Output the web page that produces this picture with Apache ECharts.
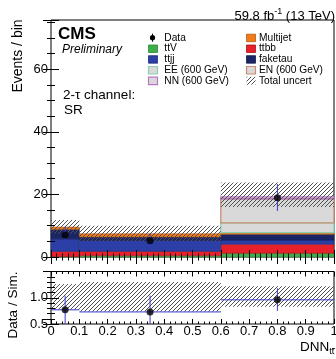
<!DOCTYPE html>
<html>
<head>
<meta charset="utf-8">
<script src="https://cdn.jsdelivr.net/npm/echarts@6/dist/echarts.min.js"></script>
<style>html,body{margin:0;padding:0;background:#fff}#c{width:336px;height:359px}</style>
</head>
<body>
<div id="c"></div>
<script>
// ---------------- data ----------------
const binEdges = [0, 0.1, 0.6, 1.0];
const ttV      = [0.1, 0.4, 1.2];
const ttbb     = [1.7, 1.4, 2.9];
const ttjj     = [4.0, 3.5, 1.3];
const faketau  = [3.0, 1.1, 1.9];
const multijet = [0.75, 1.0, 0.5];
const sigEE    = [0, 0, 3.1];
const sigEN    = [0, 0, 7.7];
const sigNN    = [0, 0, 0.6];
const uncLow   = [7.4, 5.0, 16.0];
const uncHigh  = [11.8, 10.0, 23.8];
const dataX    = [0.05, 0.35, 0.8];
const dataY    = [7.0, 5.2, 18.9];
const dataLo   = [4.4, 2.9, 14.7];
const dataHi   = [9.6, 7.5, 23.3];
const ratioY   = [0.77, 0.73, 0.96];
const ratioLo  = [0.45, 0.42, 0.75];
const ratioHi  = [1.04, 1.04, 1.18];
const ratioUncLow  = [0.77, 0.74, 0.83];
const ratioUncHigh = [1.26, 1.30, 1.22];
const mainTicks  = [0, 20, 40, 60];
const ratioTicks = [0.5, 1.0, 1.5];
const xTicks     = [0, 0.1, 0.2, 0.3, 0.4, 0.5, 0.6, 0.7, 0.8, 0.9, 1];

// ---------------- styles ----------------
const FONT = '"Liberation Sans", Arial, Helvetica, sans-serif';
const stackDefs = [
  {name: 'ttV',      values: ttV,      fill: '#3fae49', stroke: '#2f8a38'},
  {name: 'ttbb',     values: ttbb,     fill: '#e8202a', stroke: '#a8141b'},
  {name: 'ttjj',     values: ttjj,     fill: '#2b3fa6', stroke: '#1f2f80'},
  {name: 'faketau',  values: faketau,  fill: '#1b2566', stroke: '#121a4a'},
  {name: 'Multijet', values: multijet, fill: '#f07a1c', stroke: '#b35a10'},
  {name: 'EE (600 GeV)', values: sigEE, fill: '#d9d9d9', stroke: '#8ccfb0', sig: true},
  {name: 'EN (600 GeV)', values: sigEN, fill: '#d9d9d9', stroke: '#c98e70', sig: true},
  {name: 'NN (600 GeV)', values: sigNN, fill: '#d9d9d9', stroke: '#b877c5', sig: true}
];

function hatchPattern(color) {
  const p = 4;
  const c = document.createElement('canvas');
  c.width = p; c.height = p;
  const g = c.getContext('2d');
  g.strokeStyle = color; g.lineWidth = 1.0;
  g.beginPath();
  g.moveTo(0, p); g.lineTo(p, 0);
  g.moveTo(-1, 1); g.lineTo(1, -1);
  g.moveTo(p - 1, p + 1); g.lineTo(p + 1, p - 1);
  g.stroke();
  return {image: c, repeat: 'repeat'};
}
const hatch = hatchPattern('#505050');

// ---------------- series builders ----------------
const series = [];
const cum = binEdges.slice(0, -1).map(() => 0);
stackDefs.forEach(def => {
  const items = def.values.map((v, i) => {
    const it = [binEdges[i], binEdges[i + 1], cum[i], cum[i] + v];
    cum[i] += v;
    return it;
  });
  series.push({
    type: 'custom', name: def.name, xAxisIndex: 0, yAxisIndex: 0, z: 2,
    data: items,
    renderItem: (params, api) => {
      const x0 = api.value(0), x1 = api.value(1), y0 = api.value(2), y1 = api.value(3);
      if (y1 - y0 <= 0) return null;
      const a = api.coord([x0, y1]), b = api.coord([x1, y0]);
      return {type: 'rect', shape: {x: a[0], y: a[1], width: b[0] - a[0], height: b[1] - a[1]},
        style: {fill: def.fill, stroke: def.stroke, lineWidth: def.sig ? 1.3 : 0.6}};
    }
  });
});

function bandSeries(lo, hi, xi, yi) {
  return {
    type: 'custom', xAxisIndex: xi, yAxisIndex: yi, z: 3, silent: true,
    data: lo.map((v, i) => [binEdges[i], binEdges[i + 1], v, hi[i]]),
    renderItem: (params, api) => {
      const a = api.coord([api.value(0), api.value(3)]), b = api.coord([api.value(1), api.value(2)]);
      return {type: 'rect', shape: {x: a[0], y: a[1], width: b[0] - a[0], height: b[1] - a[1]},
        style: {fill: hatch, stroke: null}};
    }
  };
}
series.push(bandSeries(uncLow, uncHigh, 0, 0));
series.push(bandSeries(ratioUncLow, ratioUncHigh, 1, 1));

// error bars top panel
series.push({
  type: 'custom', xAxisIndex: 0, yAxisIndex: 0, z: 4,
  data: dataX.map((x, i) => [x, dataLo[i], dataHi[i]]),
  renderItem: (params, api) => {
    const a = api.coord([api.value(0), api.value(1)]), b = api.coord([api.value(0), api.value(2)]);
    return {type: 'line', shape: {x1: a[0], y1: a[1], x2: b[0], y2: b[1]}, style: {stroke: '#3a3acc', lineWidth: 1}};
  }
});
series.push({type: 'scatter', xAxisIndex: 0, yAxisIndex: 0, z: 5, symbol: 'circle', symbolSize: 7,
  itemStyle: {color: '#000'}, data: dataX.map((x, i) => [x, dataY[i]])});

// ratio error bars (x: bin width, y: stat)
series.push({
  type: 'custom', xAxisIndex: 1, yAxisIndex: 1, z: 4,
  data: dataX.map((x, i) => [x, ratioY[i], Math.max(ratioLo[i], 0.5), Math.min(ratioHi[i], 1.5), binEdges[i], binEdges[i + 1]]),
  renderItem: (params, api) => {
    const a = api.coord([api.value(0), api.value(2)]), b = api.coord([api.value(0), api.value(3)]);
    const l = api.coord([api.value(4), api.value(1)]), r = api.coord([api.value(5), api.value(1)]);
    return {type: 'group', children: [
      {type: 'line', shape: {x1: a[0], y1: a[1], x2: b[0], y2: b[1]}, style: {stroke: '#3a3acc', lineWidth: 1}},
      {type: 'line', shape: {x1: l[0], y1: l[1], x2: r[0], y2: r[1]}, style: {stroke: '#3a3acc', lineWidth: 1}}
    ]};
  }
});
series.push({type: 'scatter', xAxisIndex: 1, yAxisIndex: 1, z: 5, symbol: 'circle', symbolSize: 7,
  itemStyle: {color: '#000'}, data: dataX.map((x, i) => [x, ratioY[i]])});

// ---------------- axes ----------------
const fmtX = v => { const s = (+v).toFixed(1); return s.endsWith('.0') ? s.slice(0, -2) : s; };
function xAx(grid, pos, labels, maj, mn) {
  return {type: 'value', gridIndex: grid, position: pos, min: 0, max: 1, interval: 0.1, z: 10,
    axisLine: {show: false}, splitLine: {show: false},
    axisTick: {show: true, inside: true, length: maj, lineStyle: {color: '#000', width: 1}},
    minorTick: {show: true, splitNumber: 5, length: mn, lineStyle: {color: '#000', width: 1}},
    axisLabel: {show: labels, inside: false, margin: 1, color: '#000', fontSize: 13, fontFamily: FONT,
      formatter: fmtX, showMaxLabel: true, showMinLabel: true, hideOverlap: false}};
}
function yAx(grid, pos, labels, min, max, interval, minorSplit, fmt, maj, mn) {
  return {type: 'value', gridIndex: grid, position: pos, min: min, max: max, interval: interval, z: 10,
    axisLine: {show: false}, splitLine: {show: false},
    axisTick: {show: true, inside: true, length: maj, lineStyle: {color: '#000', width: 1}},
    minorTick: {show: true, splitNumber: minorSplit, length: mn, lineStyle: {color: '#000', width: 1}},
    axisLabel: {show: labels, margin: 3, color: '#000', fontSize: 13, fontFamily: FONT, formatter: fmt,
      showMaxLabel: false}};
}
const mainFmt = v => (mainTicks.indexOf(Math.round(v)) >= 0 ? String(Math.round(v)) : '');
const ratioFmt = v => (+v).toFixed(1);

// ---------------- legend (graphic) ----------------
const legendRows = [37.7, 48.5, 59.2, 70.0, 80.7];
const col1X = 148, col2X = 246;
const col1Off = 16.3, col2Off = 13;
const legendCol1 = ['Data', 'ttV', 'ttjj', 'EE (600 GeV)', 'NN (600 GeV)'];
const legendCol2 = ['Multijet', 'ttbb', 'faketau', 'EN (600 GeV)', 'Total uncert'];
const byName = {};
stackDefs.forEach(d => byName[d.name] = d);
const graphics = [];
function legendEntry(name, x, y, off) {
  if (name === 'Data') {
    graphics.push({type: 'line', shape: {x1: x + 4.5, y1: y - 4, x2: x + 4.5, y2: y + 4}, style: {stroke: '#000', lineWidth: 1}});
    graphics.push({type: 'circle', shape: {cx: x + 4.5, cy: y, r: 2.6}, style: {fill: '#000'}});
  } else if (name === 'Total uncert') {
    graphics.push({type: 'rect', shape: {x: x + 0.5, y: y - 4, width: 9, height: 8}, style: {fill: hatch}});
  } else {
    const d = byName[name];
    graphics.push({type: 'rect', shape: {x: x + 0.5, y: y - 3.5, width: 9, height: 7.5},
      style: {fill: d.fill, stroke: d.stroke, lineWidth: d.sig ? 1.2 : 0.8}});
  }
  graphics.push({type: 'text', x: x + off, y: y, style: {text: name, fill: '#000', font: '10.2px ' + FONT,
    verticalAlign: 'middle', align: 'left'}});
}
legendCol1.forEach((n, i) => legendEntry(n, col1X, legendRows[i], col1Off));
legendCol2.forEach((n, i) => legendEntry(n, col2X, legendRows[i], col2Off));

// labels
graphics.push({type: 'text', x: 58, y: 34, style: {text: 'CMS', fill: '#000', font: 'bold 17px ' + FONT, verticalAlign: 'middle'}});
graphics.push({type: 'text', x: 62, y: 50, style: {text: 'Preliminary', fill: '#000', font: 'italic 12px ' + FONT, verticalAlign: 'middle'}});
graphics.push({type: 'text', x: 63, y: 95, style: {text: '2-\u03c4 channel:', fill: '#000', font: '13.5px ' + FONT, verticalAlign: 'middle'}});
graphics.push({type: 'text', x: 64, y: 110, style: {text: 'SR', fill: '#000', font: '13.5px ' + FONT, verticalAlign: 'middle'}});
graphics.push({type: 'text', x: 335, y: 7, style: {
  text: '{n|59.8 fb}{s|-1}{n| (13 TeV)}', align: 'right', verticalAlign: 'top', fill: '#000',
  rich: {n: {fontSize: 13, fontFamily: FONT, lineHeight: 13, padding: [3, 0, 0, 0], verticalAlign: 'top'},
         s: {fontSize: 9, fontFamily: FONT, lineHeight: 9, verticalAlign: 'top'}}}});
graphics.push({type: 'text', x: 300, y: 340, style: {
  text: '{n|DNN}{s|tt}', align: 'left', verticalAlign: 'top', fill: '#000',
  rich: {n: {fontSize: 13.5, fontFamily: FONT, lineHeight: 14, verticalAlign: 'top'},
         s: {fontSize: 9, fontFamily: FONT, lineHeight: 9, padding: [7, 0, 0, 0], verticalAlign: 'top'}}}});
graphics.push({type: 'line', shape: {x1: 332, y1: 348.5, x2: 335, y2: 348.5}, style: {stroke: '#000', lineWidth: 0.8}});
graphics.push({type: 'text', x: 18.5, y: 56, rotation: Math.PI / 2, style: {text: 'Events / bin', fill: '#000',
  font: '14px ' + FONT, align: 'center', verticalAlign: 'middle'}});
graphics.push({type: 'text', x: 13.5, y: 305, rotation: Math.PI / 2, style: {text: 'Data / Sim.', fill: '#000',
  font: '13.5px ' + FONT, align: 'center', verticalAlign: 'middle'}});

const gridBase = {left: 51, right: 2, show: true, borderColor: '#000', borderWidth: 1,
  backgroundColor: 'transparent', containLabel: false, outerBoundsMode: 'none'};
const option = {
  animation: false,
  backgroundColor: '#fff',
  grid: [
    Object.assign({}, gridBase, {top: 20, height: 237}),
    Object.assign({}, gridBase, {top: 271.5, height: 52.5})
  ],
  xAxis: [
    xAx(0, 'bottom', false, 7, 3.5),
    xAx(1, 'bottom', true, 5, 2.5),
    xAx(0, 'top', false, 7, 3.5),
    xAx(1, 'top', false, 5, 2.5)
  ],
  yAxis: [
    yAx(0, 'left', true, 0, 75.7, 20, 4, mainFmt, 8, 4),
    yAx(1, 'left', true, 0.5, 1.5, 0.5, 5, ratioFmt, 8, 4),
    yAx(0, 'right', false, 0, 75.7, 20, 4, mainFmt, 8, 4),
    yAx(1, 'right', false, 0.5, 1.5, 0.5, 5, ratioFmt, 8, 4)
  ],
  series: series,
  graphic: {elements: graphics}
};
const chart = echarts.init(document.getElementById('c'), null, {renderer: 'canvas'});
chart.setOption(option);
</script>
</body>
</html>
